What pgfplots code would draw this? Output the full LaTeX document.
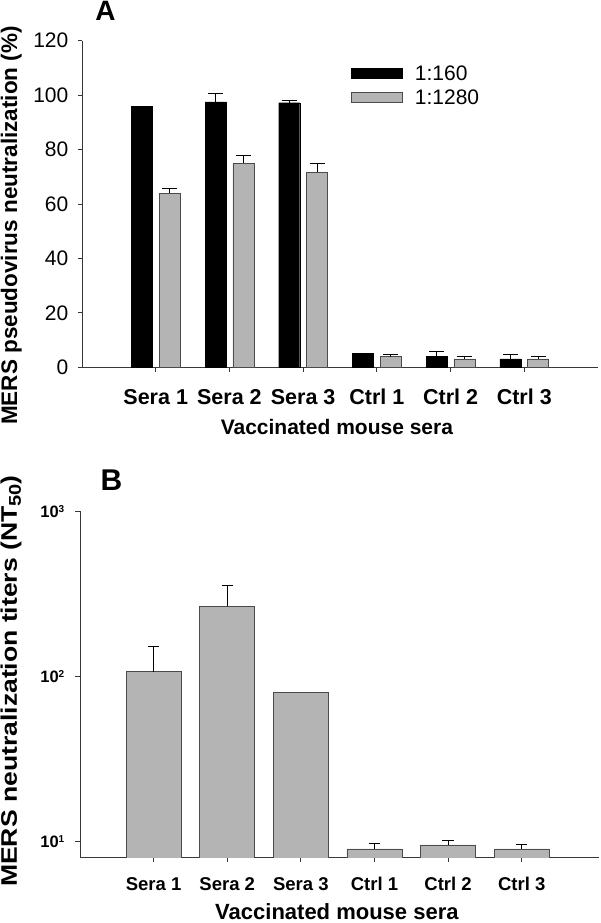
\documentclass[border=0pt]{standalone}
\usepackage{fontspec}
\setmainfont{Liberation Sans}
\usepackage{pgfplots}
\pgfplotsset{compat=1.18}
\definecolor{barg}{RGB}{180,180,180}
\definecolor{edge}{RGB}{75,75,75}
\definecolor{axc}{RGB}{55,55,55}

\newcommand{\fs}[1]{\fontsize{#1}{#1}\selectfont}

\pgfplotsset{
  panel/.style={
    scale only axis,
    axis x line*=bottom, axis y line*=left,
    axis line style={-, axc, line width=1pt},
    tick align=outside, major tick length=4.5pt,
    tick style={axc, line width=0.8pt},
    xmin=-1, xmax=6,
    xtick={0,1,2,3,4,5},
    xticklabels={Sera 1,Sera 2,Sera 3,Ctrl 1,Ctrl 2,Ctrl 3},
    /pgf/number format/assume math mode=true,
    title style={anchor=center},
    xlabel style={anchor=center},
    ylabel style={anchor=center},
  },
  errs/.style={forget plot, draw=none, mark=none,
    error bars/.cd, y dir=plus, y explicit,
    error bar style={draw=black, solid, line width=0.8pt},
    error mark options={draw=black, rotate=90, mark size=#1, line width=0.8pt}},
}

\begin{document}
\begin{tikzpicture}[x=1pt,y=1pt]
\useasboundingbox (0,0) rectangle (600,923);

% ---- panel A  (bars offset by +-0.1886 from the category position)
\begin{axis}[panel,
  at={(82pt,555.7pt)}, anchor=south west,
  width=516pt, height=326.6pt,
  ymin=0, ymax=120, ytick={0,20,...,120},
  yticklabel style={font=\fs{21}, anchor=east, inner sep=0pt, xshift=-9pt},
  xticklabel style={font=\fs{21.5}\bfseries, anchor=north, inner sep=0pt, yshift=-17pt},
  title={A}, title style={font=\fs{28}\bfseries, at={(axis description cs:0.0455,1.072)}},
  xlabel={Vaccinated mouse sera},
  xlabel style={font=\fs{21}\bfseries, at={(axis description cs:0.494,-0.182)}},
  ylabel={MERS pseudovirus neutralization (\%)},
  ylabel style={font=\fs{22.5}\bfseries, at={(axis description cs:-0.137,0.434)}},
  legend style={draw=none, fill=none, font=\fs{21}, at={(axis description cs:0.52,0.925)},
    anchor=north west, inner sep=0pt, row sep=8pt,
    nodes={inner sep=0pt}},
  legend cell align=left,
  legend image code/.code={\draw[#1] (0pt,-5pt) rectangle (51pt,5pt);},
]
\addplot[ybar, bar width=21pt, bar shift=0pt, fill=black, draw=black]
  coordinates {(-0.1886,96) (0.8114,97.5) (1.8114,97.2)
               (2.8114,5) (3.8114,3.9) (4.8114,3.1)};
\addlegendentry{\hspace{13pt}1:160}
\addplot[ybar, bar width=21pt, bar shift=0pt, fill=barg, draw=edge]
  coordinates {(0.1886,63.9) (1.1886,75) (2.1886,71.7)
               (3.1886,3.9) (4.1886,3.1) (5.1886,3.1)};
\addlegendentry{\hspace{13pt}1:1280}
\addplot[errs=7.5pt]
  coordinates {(0.8114,97.5) +- (0,3) (1.8114,97.2) +- (0,1)
               (3.8114,3.9) +- (0,2.1) (4.8114,3.1) +- (0,1.8)};
\addplot[errs=7.5pt]
  coordinates {(0.1886,63.9) +- (0,1.9) (1.1886,75) +- (0,3) (2.1886,71.7) +- (0,3.1)
               (3.1886,3.9) +- (0,1) (4.1886,3.1) +- (0,0.8) (5.1886,3.1) +- (0,0.8)};
\end{axis}

% ---- panel B
\begin{axis}[panel,
  at={(80pt,65.3pt)}, anchor=south west,
  width=519pt, height=346.4pt,
  xmax=6.05,
  ymode=log, ymin=8, ymax=1000, ytick={10,100,1000}, yminorticks=false,
  yticklabels={10\raisebox{5pt}{\fs{10}1},10\raisebox{5pt}{\fs{10}2},10\raisebox{5pt}{\fs{10}3}},
  yticklabel style={font=\fs{16.5}\bfseries, anchor=east, inner sep=0pt, xshift=-11pt},
  xticklabel style={font=\fs{18.5}\bfseries, anchor=north, inner sep=0pt, yshift=-15pt},
  title={B}, title style={font=\fs{30}\bfseries, at={(axis description cs:0.0605,1.0736)}},
  xlabel={Vaccinated mouse sera},
  xlabel style={font=\fs{22}\bfseries, at={(axis description cs:0.495,-0.157)}},
  ylabel={\scalebox{1.18}[1]{MERS neutralization titers (NT\raisebox{-4pt}{\fs{17}50})}},
  ylabel style={font=\fs{22.5}\bfseries, at={(axis description cs:-0.133,0.51)}},
]
\addplot[ybar, bar width=55pt, bar shift=0pt, fill=barg, draw=edge, line width=0.8pt]
  coordinates {(0,107) (1,267) (2,80) (3,9.04) (4,9.56) (5,9.04)};
\addplot[errs=5.7pt]
  coordinates {(0,107) +- (0,46) (1,267) +- (0,91)
               (3,9.04) +- (0,0.79) (4,9.56) +- (0,0.59) (5,9.04) +- (0,0.6)};
\end{axis}
\end{tikzpicture}
\end{document}
